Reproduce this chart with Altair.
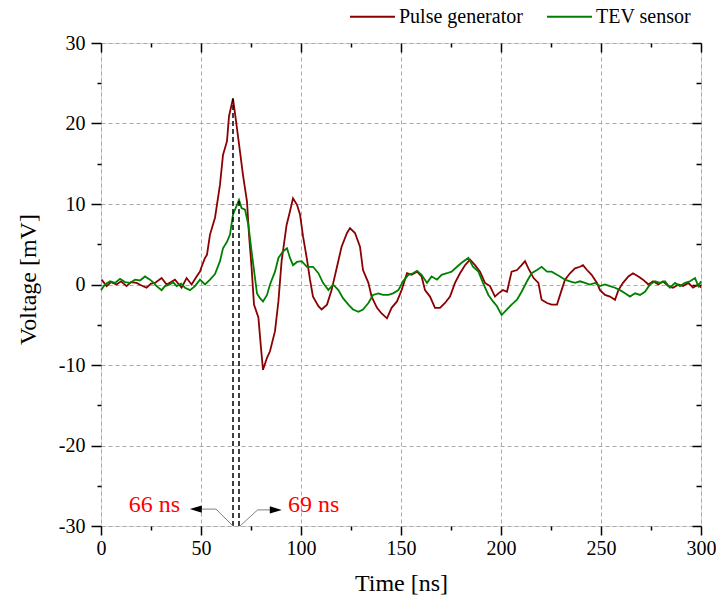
import altair as alt
import pandas as pd

FONT = "Liberation Serif"

# ---- measured series (time in ns, voltage in mV) ----
pulse_t = [0.3, 2.8, 5, 7.8, 10, 12.8, 15, 17.8, 20, 22.8, 25, 27, 30.3, 32.8, 35, 37, 40.3, 42.8,
           45.3, 47.8, 49.5, 50.3, 52, 53, 54.5, 57, 59.5, 61, 63, 64, 66, 67.3, 69.5, 71, 73, 74,
           75.3, 76.5, 78.7, 80, 81, 83, 84.5, 87, 88.7, 90.3, 92.8, 94.5, 96, 98, 99.5, 101, 103,
           104.5, 106, 108.7, 110.3, 113, 115.3, 118, 120.3, 123, 124.5, 127, 129.5, 131, 133.7,
           135.3, 138, 140.3, 143, 145.3, 148, 150.3, 153, 155.3, 158, 160.3, 162, 164.5, 167,
           169.5, 172, 174.5, 177, 179.5, 182, 184.5, 187, 189.5, 192, 194.5, 197, 198.7, 201, 203,
           205.3, 208, 210.3, 212, 213.7, 216.3, 218.7, 220.3, 223, 225.3, 228, 230.3, 232, 234.5,
           237, 239.5, 241, 243, 245.3, 248, 249.5, 252, 254.5, 257, 258.7, 261, 263.7, 266, 268.7,
           271, 273.7, 276, 278.7, 281, 283.7, 286, 288.7, 291, 293.7, 296, 298.7, 300]
pulse_v = [0.6, -0.2, 0.3, 0.0, 0.4, -0.2, 0.3, 0.2, -0.1, -0.4, 0.1, 0.2, 0.8, 0.0, 0.3, 0.6, -0.4, 0.8,
           0.0, 1.0, 1.6, 2.2, 3.3, 3.7, 6.2, 8.3, 12.4, 16.1, 17.8, 20.9, 23.1, 20.7, 16.5, 13.6, 10.3, 6.2,
           2.1, -2.5, -4.1, -7.9, -10.6, -9.1, -8.3, -5.8, -2.1, 2.9, 7.4, 9.1, 10.7, 9.9, 8.7, 6.0, 3.1,
           0.6, -1.5, -2.7, -3.1, -2.5, -0.7, 2.2, 4.7, 6.4, 7.0, 6.4, 4.7, 1.8, 0.2,
           -1.5, -2.9, -3.6, -4.2, -2.9, -2.1, -0.7, 1.4, 1.2, 1.6, 1.0, -0.7, -1.5, -2.9,
           -2.9, -2.3, -1.5, 0.2, 1.4, 2.4, 3.1, 2.4, 1.6, 0.2, -0.2, -1.5, -1.1, -0.7, -0.9,
           1.6, 1.8, 2.4, 2.9, 2.0, 0.8, 0.2, -1.9, -2.3, -2.5, -2.5, -0.7, 0.6, 1.4,
           2.0, 2.2, 2.4, 1.8, 1.2, 0.2, -0.7, -1.3, -1.5, -1.9, -0.7, 0.2, 1.0, 1.4, 1.0,
           0.6, 0.0, 0.4, 0.0, 0.4, -0.2, -0.4, 0.0, -0.2, 0.2, -0.4, 0.0, -0.4]

tev_t = [0, 2, 4.5, 7, 9.5, 12, 14.5, 17, 19.5, 22, 24.5, 26, 27.8, 30.3, 32, 34.5, 36, 37.8, 40, 42,
         44.5, 47, 49.5, 52, 54.5, 57, 59.5, 61, 63, 64.5, 66, 68, 69, 70.3, 72, 73.7, 75.3, 77, 78,
         79.5, 81, 83, 84.5, 87, 88.7, 91, 93, 94.5, 96, 98, 100.3, 103, 106, 108.7, 111, 113.7, 116,
         118.7, 121, 123.7, 126, 128.7, 131, 133.7, 136, 138.7, 141, 143.7, 146, 148.7, 151, 153.7,
         156, 158, 160.3, 163, 165.3, 168, 170.3, 173, 175.3, 178, 180.3, 183.7, 186, 188.7, 191,
         193.7, 196, 198, 200.3, 203, 205.3, 208, 210.3, 213, 215.3, 218, 220.3, 223, 225.3, 228,
         229.5, 232, 234.5, 237, 239.5, 242, 244.5, 247, 249.5, 252, 254.5, 257, 259.5, 262, 264.5,
         267, 269.5, 272, 274.5, 277, 279.5, 282, 284.5, 287, 289.5, 292, 294.5, 297, 298.7, 300]
tev_v = [-0.7, 0.0, 0.4, 0.2, 0.7, 0.3, 0.2, 0.6, 0.5, 1.0, 0.6, 0.3, -0.2, -0.7, -0.2, 0.0, 0.3, -0.2, 0.1, -0.4,
         -0.7, -0.2, 0.6, 0.0, 0.6, 1.3, 2.9, 4.5, 5.3, 6.2, 8.7, 9.9, 10.5, 9.5, 9.3, 7.4, 4.1, 0.8, -1.1,
         -1.7, -2.1, -1.3, 0.0, 1.6, 3.3, 4.1, 4.5, 3.3, 2.4, 2.8, 2.9, 2.2, 2.2, 1.4, 0.2, -0.7, 0.0,
         -0.7, -1.7, -2.5, -3.1, -3.4, -3.1, -2.3, -1.3, -1.1, -1.3, -1.3, -1.1, -0.7, 0.4, 1.2,
         1.4, 1.7, 1.2, 0.2, 1.0, 0.6, 1.2, 1.4, 1.6, 2.2, 2.7, 3.3, 2.2, 1.6, 0.2,
         -1.3, -2.1, -2.7, -3.8, -3.1, -2.5, -1.9, -0.9, 0.4, 1.4, 1.8, 2.2, 1.6, 1.6, 1.2,
         1.0, 0.6, 0.4, 0.2, 0.4, 0.2, 0.0, 0.2, -0.2, 0.0, -0.2, -0.4, -0.7, -1.1, -1.5,
         -1.1, -1.3, -0.9, 0.0, 0.4, 0.2, 0.4, -0.4, 0.2, -0.2, 0.2, 0.4, 0.8, -0.2, 0.4]

series_names = ["Pulse generator", "TEV sensor"]
series_colors = ["#8B0000", "#008000"]

# ---- axes ----
x_domain = [0, 300]
y_domain = [-30, 30]
x_major = [0, 50, 100, 150, 200, 250, 300]
x_minor = [25, 75, 125, 175, 225, 275]
y_major = [-30, -20, -10, 0, 10, 20, 30]
y_minor = [-25, -15, -5, 5, 15, 25]

# ---- annotations ----
marker_t = [66, 69]
marker_peak = [23.1, 10.5]
marker_base = [-30, -30]

label_text = ["66 ns", "69 ns"]
label_t = [26.75, 106.3]
label_v = [-27.4, -27.4]

arrow_left_t = [66, 57.5, 50.3]
arrow_left_v = [-30, -27.9, -27.9]
arrow_right_t = [69.5, 78.3, 84.5]
arrow_right_v = [-30, -28.0, -28.0]
head_t = [47.4, 87.4]
head_v = [-27.9, -28.0]
head_angle = [0, 180]

# ---- tables ----
df = pd.concat([
    pd.DataFrame({"t": pulse_t, "v": pulse_v, "series": series_names[0]}),
    pd.DataFrame({"t": tev_t, "v": tev_v, "series": series_names[1]}),
], ignore_index=True)
markers = pd.DataFrame({"t": marker_t, "v": marker_base, "v2": marker_peak})
labels = pd.DataFrame({"t": label_t, "v": label_v, "text": label_text})
arrows = pd.concat([
    pd.DataFrame({"t": arrow_left_t, "v": arrow_left_v, "grp": "L", "ord": range(3)}),
    pd.DataFrame({"t": arrow_right_t, "v": arrow_right_v, "grp": "R", "ord": range(3)}),
], ignore_index=True)
heads = pd.DataFrame({"t": head_t, "v": head_v, "ang": head_angle})

xs = alt.Scale(domain=x_domain, nice=False, zero=False)
ys = alt.Scale(domain=y_domain, nice=False, zero=False)


def tick_axis(orient, values, size, offset=0):
    return alt.Axis(orient=orient, values=values, tickSize=size, tickWidth=1.5, tickColor="black",
                    labels=False, domain=False, grid=False, title=None, offset=offset)


x_main_axis = alt.Axis(orient="bottom", values=x_major, tickSize=9, tickWidth=1.5, tickColor="black",
                       labelFont=FONT, labelFontSize=20, labelColor="black", labelPadding=3,
                       labelFlush=False, labelOverlap=False, labelExpr="'' + datum.value",
                       title="Time [ns]", titleFont=FONT, titleFontSize=24, titleFontWeight="normal",
                       titleColor="black", titleX=300, titleY=64, titleBaseline="alphabetic",
                       titleAlign="center",
                       grid=True, gridDash=[4, 3], gridColor="#aaaaaa", gridWidth=1, domain=False)
y_main_axis = alt.Axis(orient="left", values=y_major, tickSize=10, tickWidth=1.5, tickColor="black",
                       labelFont=FONT, labelFontSize=20, labelColor="black", labelPadding=6,
                       labelFlush=False, labelOverlap=False, labelExpr="'' + datum.value",
                       title="Voltage [mV]", titleFont=FONT, titleFontSize=24, titleFontWeight="normal",
                       titleColor="black", titleX=-66, titleY=236, titleBaseline="alphabetic",
                       titleAlign="center", titleAngle=270,
                       grid=True, gridDash=[4, 3], gridColor="#aaaaaa", gridWidth=1, domain=False)

lines = alt.Chart(df).mark_line(strokeWidth=1.8).encode(
    x=alt.X("t:Q", scale=xs, axis=x_main_axis),
    y=alt.Y("v:Q", scale=ys, axis=y_main_axis),
    color=alt.Color("series:N", scale=alt.Scale(domain=series_names, range=series_colors),
                    legend=alt.Legend(orient="none", legendX=248, legendY=-50, direction="horizontal",
                                      title=None, symbolType="stroke", symbolSize=2025,
                                      symbolStrokeWidth=2, labelFont=FONT, labelFontSize=20,
                                      labelColor="black", labelOffset=3, columnPadding=20,
                                      padding=0)),
)

marker_layer = alt.Chart(markers).mark_rule(color="black", strokeWidth=1.5, strokeDash=[5, 3]).encode(
    x=alt.X("t:Q", scale=xs, axis=tick_axis("bottom", x_minor, 4)),
    y=alt.Y("v:Q", scale=ys, axis=tick_axis("left", y_minor, 4)),
    y2="v2:Q",
)

label_layer = alt.Chart(labels).mark_text(font=FONT, fontSize=24, color="#ff0000",
                                          align="center", baseline="middle").encode(
    x=alt.X("t:Q", scale=xs, axis=tick_axis("top", x_major, 9, -9)),
    y=alt.Y("v:Q", scale=ys, axis=tick_axis("right", y_major, 9, -9)),
    text="text:N",
)

arrow_layer = alt.Chart(arrows).mark_line(color="#808080", strokeWidth=1).encode(
    x=alt.X("t:Q", scale=xs, axis=tick_axis("top", x_minor, 4, -4)),
    y=alt.Y("v:Q", scale=ys, axis=tick_axis("right", y_minor, 5, -5)),
    detail="grp:N",
    order="ord:Q",
)

head_layer = alt.Chart(heads).mark_point(shape="M-1,0L1,-0.6L1,0.6Z", filled=True, color="black",
                                         opacity=1, size=144).encode(
    x=alt.X("t:Q", scale=xs, axis=None),
    y=alt.Y("v:Q", scale=ys, axis=None),
    angle=alt.Angle("ang:Q", scale=None),
)

chart = alt.layer(lines, marker_layer, arrow_layer, head_layer, label_layer).resolve_axis(
    x="independent", y="independent"
).properties(
    width=600, height=483,
    autosize=alt.AutoSizeParams(type="none"),
    padding={"left": 101, "top": 43, "right": 15, "bottom": 72},
).configure_view(stroke="black", strokeWidth=1.6).configure(background="white")

chart.save("out.html", embed_options={"renderer": "svg", "actions": False})
